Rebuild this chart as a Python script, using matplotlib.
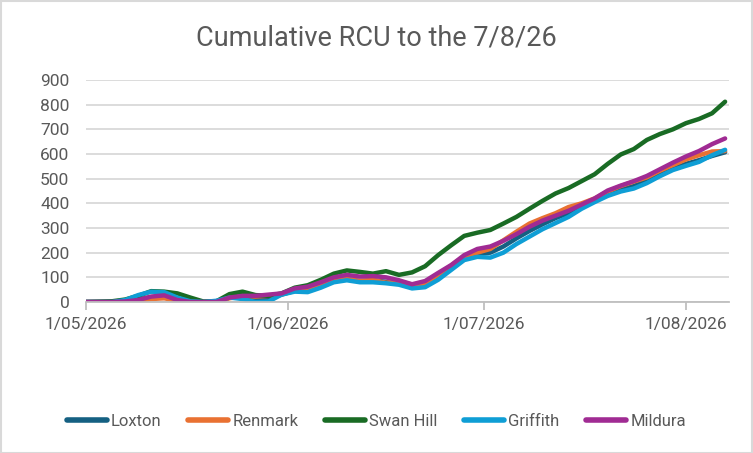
import matplotlib
matplotlib.use("Agg")
import matplotlib.pyplot as plt
import pandas as pd
from matplotlib.patches import Rectangle

start = "2026-05-01"
day_offsets = [0, 4, 6, 8, 10, 12, 14, 16, 18, 20, 22, 24, 26, 28, 30, 32, 34, 36, 38, 40,
               42, 44, 46, 48, 50, 52, 54, 56, 58, 60, 62, 64, 66, 68, 70, 72, 74, 76, 78, 80,
               82, 84, 86, 88, 90, 92, 94, 96, 98]

loxton = [0, 0, 2, 10, 20, 22, 10, 0, 0, 0, 18, 22, 15, 15, 30, 45, 48, 65, 85, 92,
          85, 88, 82, 85, 62, 68, 100, 138, 175, 195, 200, 225, 258, 288, 315, 340, 360, 385, 410, 435,
          455, 470, 492, 518, 540, 560, 575, 592, 607]
renmark = [0, 0, 0, 3, 12, 15, 5, 0, 0, 0, 15, 25, 22, 25, 32, 48, 55, 70, 88, 95,
           85, 90, 78, 85, 70, 75, 110, 148, 185, 200, 215, 250, 285, 318, 340, 360, 385, 400, 420, 448,
           470, 488, 505, 532, 555, 578, 595, 610, 612]
swan_hill = [0, 3, 10, 25, 44, 42, 35, 18, 2, 3, 32, 42, 28, 25, 35, 58, 68, 90, 115, 128,
             122, 115, 125, 110, 120, 145, 190, 230, 268, 281, 292, 318, 345, 378, 410, 440, 462, 490, 518, 560,
             598, 620, 657, 681, 700, 725, 742, 765, 812]
griffith = [0, 0, 8, 28, 42, 40, 18, 3, 0, 5, 18, 12, 0, 2, 30, 42, 40, 58, 80, 88,
            80, 80, 76, 70, 55, 60, 90, 130, 170, 183, 180, 200, 235, 265, 295, 320, 345, 378, 405, 430,
            448, 460, 482, 510, 535, 552, 568, 595, 617]
mildura = [0, 0, 2, 8, 22, 27, 8, 0, 0, 0, 18, 25, 25, 30, 35, 55, 62, 80, 100, 110,
           103, 105, 100, 88, 72, 85, 118, 150, 190, 215, 225, 248, 275, 305, 330, 350, 370, 395, 420, 452,
           472, 490, 511, 538, 565, 590, 612, 640, 663]

series_names = ["Loxton", "Renmark", "Swan Hill", "Griffith", "Mildura"]
series_values = [loxton, renmark, swan_hill, griffith, mildura]
colors = ["#156082", "#E97132", "#196B24", "#0F9ED5", "#A02B93"]

tick_dates = ["2026-05-01", "2026-06-01", "2026-07-01", "2026-08-01"]
tick_labels = ["1/05/2026", "1/06/2026", "1/07/2026", "1/08/2026"]
y_ticks = [0, 100, 200, 300, 400, 500, 600, 700, 800, 900]
title = "Cumulative RCU to the 7/8/26"

t0 = pd.Timestamp(start)
tick_pos = [(pd.Timestamp(d) - t0).days for d in tick_dates]

plt.rcParams['font.family'] = ['Roboto', 'DejaVu Sans']
fig = plt.figure(figsize=(7.53, 4.53), dpi=100)
W, H = 753, 453
ax = fig.add_axes([86 / W, 1 - 302 / H, (729 - 86) / W, (302 - 80) / H])

for name, vals, c in zip(series_names, series_values, colors):
    ax.plot(day_offsets, vals, color=c, lw=3.2, label=name, solid_capstyle='round',
            solid_joinstyle='round')

ax.set_xlim(0, 98.6)
ax.set_ylim(0, 900)
ax.set_yticks(y_ticks)
ax.set_xticks(tick_pos)
ax.set_xticklabels(tick_labels)
ax.yaxis.grid(True, color="#d9d9d9", lw=1.3)
ax.set_axisbelow(True)
for s in ["top", "right", "left"]:
    ax.spines[s].set_visible(False)
ax.spines["bottom"].set_color("#bfbfbf")
ax.spines["bottom"].set_linewidth(1.3)
ax.tick_params(axis='y', length=0, labelsize=12.5, labelcolor="#595959", pad=12)
ax.tick_params(axis='x', length=6, width=1.3, color="#bfbfbf", labelsize=12.5,
               labelcolor="#595959", pad=5)

fig.text(0.5, 1 - 38 / H, title, ha='center', va='center', fontsize=19.5, color="#595959")

leg = fig.legend(loc='center', bbox_to_anchor=(0.5, 1 - 421 / H), ncol=5, frameon=False,
                 handlelength=2.4, columnspacing=1.6, handletextpad=0.25,
                 prop={'family': ['Roboto', 'DejaVu Sans'], 'size': 12, 'stretch': 'condensed'})
for t in leg.get_texts():
    t.set_color("#595959")
for l in leg.get_lines():
    l.set_linewidth(4)
    l.set_solid_capstyle('round')

fig.patches.append(Rectangle((0.5 / W, 0.5 / H), 1 - 1.5 / W, 1 - 1.5 / H, transform=fig.transFigure,
                             fill=False, edgecolor="#d9d9d9", lw=1.5))

fig.savefig("out.png", dpi=100, facecolor="white")
